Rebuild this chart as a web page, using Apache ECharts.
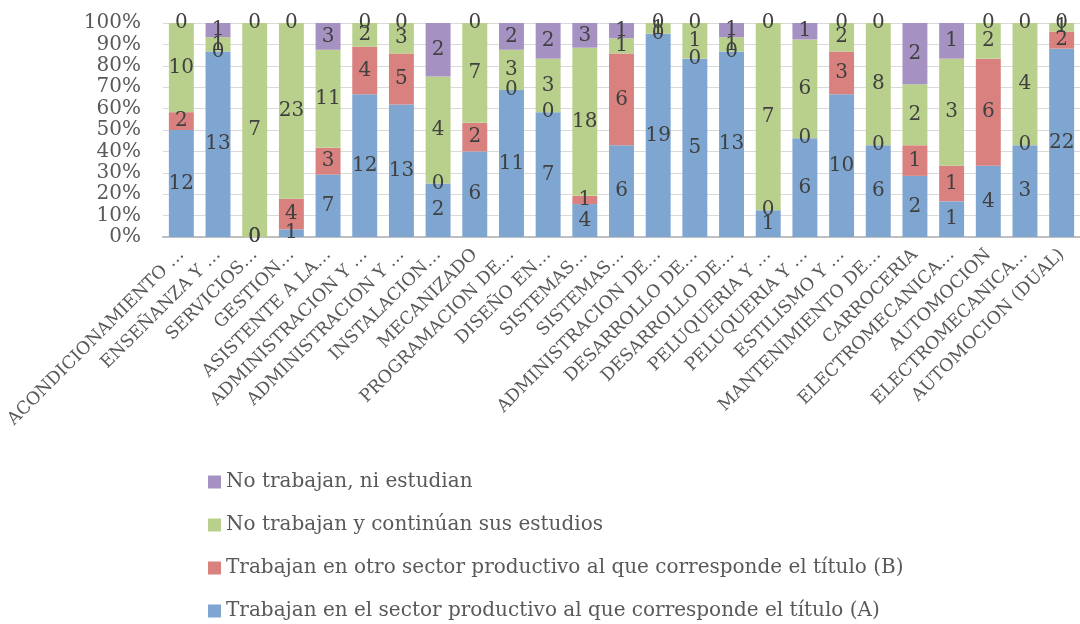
<!DOCTYPE html>
<html>
<head>
<meta charset="utf-8">
<script src="https://cdn.jsdelivr.net/npm/echarts@6/dist/echarts.min.js"></script>
<style>
html,body{margin:0;padding:0;background:#fff;}
#chart{width:1080px;height:624px;}
</style>
</head>
<body>
<div id="chart"></div>
<script>
const categories = [
  "ACONDICIONAMIENTO …","ENSEÑANZA Y …","SERVICIOS…","GESTION…","ASISTENTE A LA…",
  "ADMINISTRACION Y …","ADMINISTRACION Y …","INSTALACION…","MECANIZADO","PROGRAMACION DE…",
  "DISEÑO EN…","SISTEMAS…","SISTEMAS…","ADMINISTRACION DE…","DESARROLLO DE…",
  "DESARROLLO DE…","PELUQUERIA Y …","PELUQUERIA Y …","ESTILISMO Y …","MANTENIMIENTO DE…",
  "CARROCERIA","ELECTROMECANICA…","AUTOMOCION","ELECTROMECANICA…","AUTOMOCION (DUAL)"
];
const seriesNames = [
  "Trabajan en el sector productivo al que corresponde el título (A)",
  "Trabajan en otro sector productivo al que corresponde el título (B)",
  "No trabajan y continúan sus estudios",
  "No trabajan, ni estudian"
];
const trabajanA = [12,13,0,1,7,12,13,2,6,11,7,4,6,19,5,13,1,6,10,6,2,1,4,3,22];
const trabajanB = [2,0,0,4,3,4,5,0,2,0,0,1,6,0,0,0,0,0,3,0,1,1,6,0,2];
const estudian  = [10,1,7,23,11,2,3,4,7,3,3,18,1,1,1,1,7,6,2,8,2,3,2,4,1];
const niNi      = [0,1,0,0,3,0,0,2,0,2,2,3,1,0,0,1,0,1,0,0,2,1,0,0,0];
const yTicks = [0,10,20,30,40,50,60,70,80,90,100];

const colors = ["#7ea6d1","#d9817f","#b9d08c","#a691c3"];
const raw = [trabajanA, trabajanB, estudian, niNi];
const totals = categories.map((_, i) => raw.reduce((s, r) => s + r[i], 0));
const font = "DejaVu Serif";

const series = raw.map((arr, k) => ({
  name: seriesNames[k],
  type: 'bar',
  stack: 'total',
  barCategoryGap: '32%',
  itemStyle: { color: colors[k] },
  label: {
    show: true,
    position: 'inside',
    color: '#404040',
    fontFamily: font,
    fontSize: 20,
    formatter: p => String(arr[p.dataIndex])
  },
  data: arr.map((v, i) => totals[i] ? v / totals[i] * 100 : 0)
}));

const chart = echarts.init(document.getElementById('chart'), null, {renderer: 'canvas'});
chart.setOption({
  animation: false,
  color: colors,
  grid: { left: 163, right: -10, top: 23, bottom: 387, containLabel: false },
  xAxis: {
    type: 'category',
    data: categories,
    axisLine: { lineStyle: { color: '#bfbfbf', width: 2 } },
    axisTick: { show: false },
    axisLabel: { rotate: 45, interval: 0, fontFamily: font, fontSize: 17.5, color: '#595959', margin: 15 }
  },
  yAxis: {
    type: 'value',
    min: 0, max: 100, interval: 10,
    axisLine: { show: false },
    axisTick: { show: false },
    splitLine: { lineStyle: { color: '#d9d9d9', width: 1 } },
    axisLabel: { fontFamily: font, fontSize: 20, color: '#595959', margin: 22,
      formatter: v => yTicks.includes(v) ? v + '%' : '' }
  },
  legend: {
    orient: 'vertical',
    left: 208, top: 472, height: 200, padding: 0,
    itemWidth: 13, itemHeight: 13, itemGap: 23,
    icon: 'rect',
    data: [seriesNames[3], seriesNames[2], seriesNames[1], seriesNames[0]],
    textStyle: { fontFamily: font, fontSize: 20, color: '#595959' }
  },
  series: series
});
</script>
</body>
</html>
